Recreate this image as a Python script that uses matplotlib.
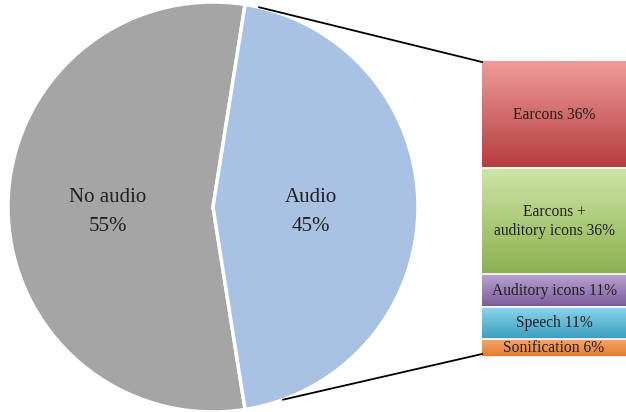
import numpy as np
import matplotlib.pyplot as plt
from matplotlib.colors import to_rgb

# datos del pie
pie_labels = ['No audio', 'Audio']
pie_values = [55, 45]
pie_colors = ['#a5a5a5', '#a9c1e3']

# datos de la barra (desglose de Audio)
bar_labels = ['Earcons 36%', 'Earcons +\nauditory icons 36%', 'Auditory icons 11%',
              'Speech 11%', 'Sonification 6%']
bar_values = [36, 36, 11, 11, 6]
bar_top_colors = ['#ef9a9a', '#cfe6a8', '#b9a3d0', '#8dd5ee', '#f6a66a']
bar_bot_colors = ['#b53d3d', '#8cb04f', '#7a5b9c', '#3b9fbf', '#e57a30']

plt.rcParams['font.family'] = ['Liberation Serif', 'DejaVu Serif']
txt = '#231f20'

fig = plt.figure(figsize=(6.26, 4.12), dpi=100)
ax = fig.add_axes([0, 0, 1, 1])
ax.set_aspect('equal')
ax.axis('off')

# pie
cx, cy, r = 213, 207, 205
ang0 = 90 - 9  # audio centrado a la derecha
ax.pie(pie_values, colors=pie_colors, center=(cx, cy), radius=r,
       startangle=ang0, counterclock=True,
       wedgeprops=dict(edgecolor='white', linewidth=2.5))
ax.text(108, 212, 'No audio\n55%', ha='center', va='center', fontsize=15,
        color=txt, linespacing=1.7)
ax.text(311, 212, 'Audio\n45%', ha='center', va='center', fontsize=15,
        color=txt, linespacing=1.7)

# barra apilada con degradado
bx0, bx1 = 482, 626
btop, bh = 62, 295
total = sum(bar_values)
y = btop
for lab, v, c1, c2 in zip(bar_labels, bar_values, bar_top_colors, bar_bot_colors):
    h = v / total * bh
    a, b = np.array(to_rgb(c1)), np.array(to_rgb(c2))
    t = np.linspace(0, 1, 64)[:, None, None]
    grad = a * (1 - t) + b * t
    ax.imshow(grad, extent=(bx0, bx1, y + h, y), origin='upper',
              aspect='auto', interpolation='bilinear', zorder=2)
    ax.plot([bx0, bx1], [y + h, y + h], color='white', lw=1.2, zorder=3)
    ax.text((bx0 + bx1) / 2, y + h / 2, lab, ha='center', va='center',
            fontsize=11.2, color=txt, zorder=4, linespacing=1.3)
    y += h

# lineas de conexion
a_top = np.deg2rad(77)
a_bot = np.deg2rad(-70)
ax.plot([cx + r * np.cos(a_top), bx0], [cy - r * np.sin(a_top), btop],
        color='black', lw=1.3, zorder=5)
ax.plot([cx + r * np.cos(a_bot), bx0], [cy - r * np.sin(a_bot), btop + bh - 3],
        color='black', lw=1.3, zorder=5)

ax.set_xlim(0, 626)
ax.set_ylim(412, 0)
fig.savefig('out.png', dpi=100)
